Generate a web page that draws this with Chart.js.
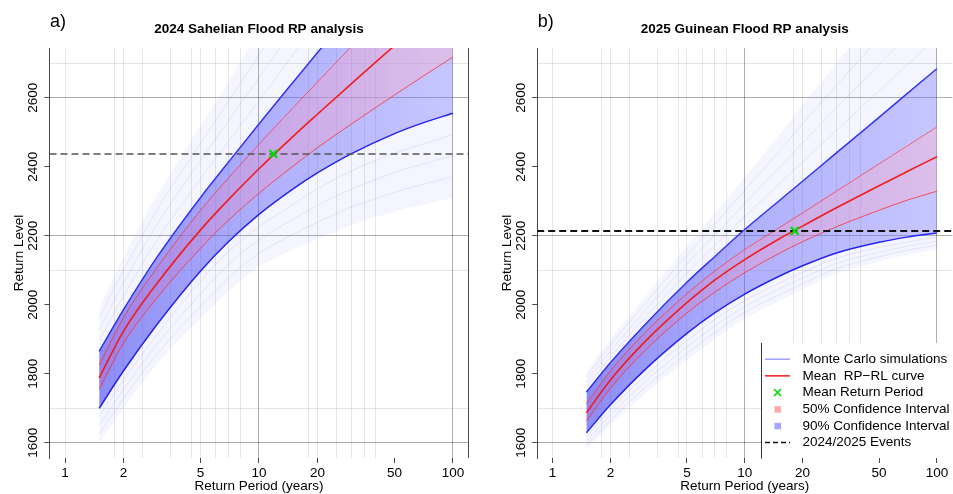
<!DOCTYPE html>
<html><head><meta charset="utf-8">
<script src="https://cdn.jsdelivr.net/npm/chart.js@4.4.1/dist/chart.umd.min.js"></script>
<style>
html,body{margin:0;padding:0;background:#fff;overflow:hidden;}
#wrap{position:relative;width:953px;height:494px;overflow:hidden;background:#fff;}
canvas{position:absolute;top:0;}
#c1{left:0;} #c2{left:480px;}
</style></head><body>
<div id="wrap"><canvas id="c1" width="480" height="494"></canvas><canvas id="c2" width="480" height="494"></canvas></div>
<script>
// ---------------- data ----------------
const RP = [1.5, 2, 3, 5, 7, 10, 15, 20, 30, 50, 70, 100];

// a) 2024 Sahelian flood
const SAH_MEAN    = [1788, 1923, 2064, 2217, 2306, 2394, 2488, 2552, 2641, 2751, 2821, 2892];
const SAH_CI50_HI = [1826, 1962, 2110, 2274, 2369, 2465, 2571, 2645, 2749, 2879, 2963, 3050];
const SAH_CI50_LO = [1755, 1888, 2022, 2164, 2246, 2323, 2402, 2455, 2524, 2608, 2662, 2718];
const SAH_CI90_HI = [1865, 1985, 2140, 2311, 2415, 2524, 2645, 2730, 2848, 2994, 3089, 3188];
const SAH_CI90_LO = [1700, 1808, 1945, 2098, 2184, 2262, 2336, 2382, 2438, 2496, 2527, 2555];
const SAH_SIM_MAX = [1990, 2140, 2320, 2520, 2650, 2790, 2950, 3060, 3200, 3380, 3480, 3600];
const SAH_SIM_MIN = [1600, 1700, 1830, 1960, 2040, 2110, 2160, 2190, 2230, 2270, 2290, 2310];
const SAH_SIMS = [
  [1895, 2025, 2190, 2365, 2475, 2590, 2725, 2820, 2945, 3100, 3200, 3305],
  [1928, 2062, 2235, 2418, 2535, 2658, 2800, 2900, 3030, 3195, 3295, 3405],
  [1960, 2100, 2278, 2468, 2592, 2724, 2875, 2980, 3115, 3288, 3388, 3500],
  [1675, 1782, 1916, 2069, 2156, 2226, 2291, 2336, 2388, 2439, 2466, 2493],
  [1650, 1755, 1888, 2032, 2118, 2188, 2248, 2288, 2335, 2383, 2408, 2432],
  [1625, 1728, 1859, 1996, 2079, 2149, 2204, 2239, 2283, 2326, 2349, 2371]
];
const SAH_EVENT_LEVEL = 2437;
const SAH_EVENT_RP = 11.85;

// b) 2025 Guinean flood
const GUI_MEAN    = [1687, 1782, 1891, 2006, 2072, 2131, 2190, 2228, 2281, 2345, 2386, 2429];
const GUI_CI50_HI = [1713, 1808, 1917, 2032, 2098, 2160, 2222, 2266, 2329, 2408, 2460, 2515];
const GUI_CI50_LO = [1663, 1758, 1865, 1976, 2037, 2093, 2148, 2183, 2226, 2274, 2303, 2329];
const GUI_CI90_HI = [1747, 1832, 1940, 2065, 2140, 2218, 2300, 2358, 2440, 2543, 2612, 2684];
const GUI_CI90_LO = [1629, 1710, 1810, 1917, 1977, 2031, 2082, 2113, 2150, 2181, 2196, 2208];
const GUI_SIM_MAX = [1805, 1900, 2020, 2170, 2265, 2370, 2490, 2580, 2700, 2850, 2950, 3060];
const GUI_SIM_MIN = [1581, 1650, 1740, 1840, 1900, 1960, 2010, 2045, 2090, 2125, 2145, 2160];
const GUI_SIMS = [
  [1762, 1849, 1960, 2091, 2171, 2256, 2348, 2414, 2505, 2620, 2695, 2778],
  [1776, 1866, 1980, 2118, 2203, 2294, 2395, 2469, 2570, 2697, 2780, 2872],
  [1791, 1883, 2000, 2144, 2234, 2332, 2443, 2525, 2635, 2773, 2865, 2966],
  [1617, 1695, 1792, 1896, 1958, 2012, 2062, 2094, 2135, 2166, 2182, 2196],
  [1605, 1680, 1775, 1878, 1939, 1995, 2045, 2078, 2120, 2152, 2170, 2184],
  [1593, 1665, 1758, 1859, 1920, 1978, 2028, 2061, 2105, 2139, 2158, 2172]
];
const GUI_EVENT_LEVEL = 2214;
const GUI_EVENT_RP = 18.2;

// axes / ticks
const X_MIN = 0.8318, X_MAX = 120.23;
const Y_MIN = 1556, Y_MAX = 2744;
const X_TICK_LABELS = [1, 2, 5, 10, 20, 50, 100];
const X_GRID = [1, 1.8, 2, 2.5, 3.5, 4.5, 5, 6, 7, 8, 10, 18, 20, 25, 30, 35, 40, 100];
const X_GRID_MAJOR = [10, 100];
const Y_TICK_LABELS = [1600, 1800, 2000, 2200, 2400, 2600];
const Y_GRID_MAJOR = [1600, 2200, 2600];
const Y_GRID_MINOR = [1700, 2100, 2700];
const LEGEND_LABELS = ['Monte Carlo simulations', 'Mean  RP\u2212RL curve', 'Mean Return Period',
  '50% Confidence Interval', '90% Confidence Interval', '2024/2025 Events'];

// ---------------- styles ----------------
const FONT = "'Liberation Sans', Arial, Helvetica, sans-serif";
const AXIS = '#4a4a4a';
const GRID_DARK = 'rgba(0,0,0,0.32)';
const GRID_LIGHT = 'rgba(0,0,0,0.10)';
const NONE = 'rgba(0,0,0,0)';
Chart.defaults.font.family = FONT;
Chart.defaults.color = '#000';

const X_TICK_VALUES = [...new Set([...X_GRID, ...X_TICK_LABELS])].sort((a, b) => a - b);
const Y_TICK_VALUES = [...new Set([...Y_TICK_LABELS, ...Y_GRID_MAJOR, ...Y_GRID_MINOR])].sort((a, b) => a - b);

function hGrad(chart, stops) {
  const {ctx, chartArea, scales} = chart;
  if (!chartArea || !scales.x) return stops[0][1];
  const x0 = scales.x.getPixelForValue(RP[0]);
  const x1 = scales.x.getPixelForValue(RP[RP.length - 1]);
  const g = ctx.createLinearGradient(x0, 0, x1, 0);
  stops.forEach(s => g.addColorStop(s[0], s[1]));
  return g;
}

const extras = {
  id: 'extras',
  afterDraw(chart, args, o) {
    const {ctx, chartArea: a} = chart;
    ctx.save();
    ctx.fillStyle = '#000';
    ctx.font = '18px ' + FONT;
    ctx.textAlign = 'left';
    ctx.textBaseline = 'alphabetic';
    ctx.fillText(o.tag, a.left + 0.5, 26.5);
    if (o.rightLine) {
      ctx.strokeStyle = AXIS; ctx.lineWidth = 1;
      const x = Math.floor(a.right) + 0.5;
      ctx.beginPath(); ctx.moveTo(x, a.top); ctx.lineTo(x, a.bottom); ctx.stroke();
    }
    if (o.legend) {
      const L = o.legend;
      ctx.fillStyle = '#fff';
      ctx.fillRect(L.x, L.top, chart.width - L.x, a.bottom - L.top);
      ctx.strokeStyle = '#333'; ctx.lineWidth = 1;
      ctx.beginPath(); ctx.moveTo(L.x, L.top); ctx.lineTo(L.x, a.bottom + 0.5); ctx.stroke();
      LEGEND_LABELS.forEach((txt, i) => {
        const y = L.row0 + i * L.rowH;
        const cx = L.symX;
        ctx.setLineDash([]);
        if (i === 0 || i === 1 || i === 5) {
          ctx.strokeStyle = i === 0 ? 'rgba(140,140,255,0.85)' : (i === 1 ? '#f01c1c' : '#111');
          ctx.lineWidth = 1.5;
          if (i === 5) ctx.setLineDash([5, 3]);
          ctx.beginPath(); ctx.moveTo(cx - 12.5, y); ctx.lineTo(cx + 12.5, y); ctx.stroke();
          ctx.setLineDash([]);
        } else if (i === 2) {
          ctx.strokeStyle = '#00dd00'; ctx.lineWidth = 1.6;
          ctx.beginPath(); ctx.moveTo(cx - 3.5, y - 3.5); ctx.lineTo(cx + 3.5, y + 3.5);
          ctx.moveTo(cx - 3.5, y + 3.5); ctx.lineTo(cx + 3.5, y - 3.5); ctx.stroke();
        } else {
          ctx.fillStyle = i === 3 ? 'rgba(255,170,170,1)' : 'rgba(165,165,255,1)';
          ctx.fillRect(cx - 3, y - 3, 6.5, 6.5);
        }
        ctx.fillStyle = '#000';
        ctx.font = '13.5px ' + FONT;
        ctx.textBaseline = 'middle';
        ctx.fillText(txt, L.textX, y);
      });
    }
    ctx.restore();
  }
};

function makePanel(canvasId, p) {
  const pts = arr => RP.map((x, i) => ({x: x, y: arr[i]}));
  const ds = [];
  ds.push({label: 'sim max', data: pts(p.simMax), borderWidth: 0, borderColor: NONE, fill: false, order: 30});
  ds.push({label: 'sim min', data: pts(p.simMin), borderWidth: 0, borderColor: NONE, fill: 0,
    backgroundColor: 'rgba(120,120,255,0.07)', order: 29});
  p.sims.forEach((s, k) => ds.push({label: 'Monte Carlo simulation ' + (k + 1), data: pts(s),
    borderColor: 'rgba(90,90,255,0.13)', borderWidth: 1, fill: false, order: 20}));
  const i90 = ds.length;
  ds.push({label: '90% CI upper', data: pts(p.ci90Hi), borderColor: '#2424ee', borderWidth: 1.5, fill: false, order: 10});
  ds.push({label: '90% CI lower', data: pts(p.ci90Lo), borderColor: '#2424ee', borderWidth: 1.5, fill: i90, order: 9,
    backgroundColor: c => hGrad(c.chart, [[0, 'rgba(75,75,240,0.62)'], [0.45, 'rgba(95,95,250,0.47)'], [1, 'rgba(115,115,255,0.36)']])});
  const i50 = ds.length;
  ds.push({label: '50% CI upper', data: pts(p.ci50Hi), borderColor: 'rgba(255,40,40,0.75)', borderWidth: 1, fill: false, order: 6});
  ds.push({label: '50% CI lower', data: pts(p.ci50Lo), borderColor: 'rgba(255,40,40,0.75)', borderWidth: 1, fill: i50, order: 5,
    backgroundColor: c => hGrad(c.chart, [[0, 'rgba(210,80,170,0.2)'], [0.5, 'rgba(255,150,185,0.3)'], [1, 'rgba(255,180,200,0.38)']])});
  ds.push({label: 'Mean RP-RL curve', data: pts(p.mean), borderColor: '#f01c1c', borderWidth: 1.6, fill: false, order: 3});
  ds.push({label: 'Event', data: [{x: X_MIN, y: p.event}, {x: X_MAX, y: p.event}], borderColor: p.evColor,
    borderWidth: p.evWidth, borderDash: [7, 4], fill: false, order: 2, cubicInterpolationMode: 'default', tension: 0});
  ds.push({label: 'Mean Return Period', data: [{x: p.evRP, y: p.event}], showLine: false, pointStyle: 'crossRot',
    pointRadius: 5.5, pointBorderWidth: 2.2, pointBorderColor: '#00dd00', pointBackgroundColor: '#00dd00', order: 1});

  return new Chart(document.getElementById(canvasId), {
    type: 'line',
    data: {datasets: ds},
    options: {
      responsive: false, animation: false, events: [],
      devicePixelRatio: 1,
      layout: {padding: {top: 0, left: 0, right: p.padRight, bottom: 0}},
      elements: {point: {radius: 0}, line: {cubicInterpolationMode: 'monotone'}},
      plugins: {
        legend: {display: false}, tooltip: {enabled: false},
        title: {display: true, text: p.title, fullSize: false, align: 'center', color: '#000',
          font: {size: 13.5, weight: 'bold'}, padding: {top: 21.2, bottom: 10.6}},
        extras: {tag: p.tag, rightLine: p.rightLine, legend: p.legend}
      },
      scales: {
        x: {
          type: 'logarithmic', min: X_MIN, max: X_MAX, z: 1,
          afterBuildTicks: s => { s.ticks = X_TICK_VALUES.map(v => ({value: v})); },
          afterFit: s => { s.height = 36; },
          border: {display: false},
          grid: {
            color: c => { const v = c.tick ? c.tick.value : null;
              return X_GRID_MAJOR.includes(v) ? GRID_DARK : (X_GRID.includes(v) ? GRID_LIGHT : NONE); },
            tickColor: c => (c.tick && X_TICK_LABELS.includes(c.tick.value)) ? AXIS : NONE,
            tickLength: 5, lineWidth: 1
          },
          ticks: {autoSkip: false, maxRotation: 0, minRotation: 0, padding: 2, color: '#000',
            font: {size: 13.5}, callback: v => X_TICK_LABELS.includes(v) ? String(v) : ''},
          title: {display: true, text: 'Return Period (years)', color: '#000', font: {size: 13.5},
            padding: {top: 0, bottom: 0}}
        },
        y: {
          type: 'linear', min: Y_MIN, max: Y_MAX, z: 1,
          afterBuildTicks: s => { s.ticks = Y_TICK_VALUES.map(v => ({value: v})); },
          afterFit: s => { s.width = p.yAxisW; },
          border: {display: true, color: AXIS, width: 1},
          grid: {
            color: c => { const v = c.tick ? c.tick.value : null;
              return Y_GRID_MAJOR.includes(v) ? GRID_DARK : (Y_GRID_MINOR.includes(v) ? GRID_LIGHT : NONE); },
            tickColor: c => (c.tick && Y_TICK_LABELS.includes(c.tick.value)) ? AXIS : NONE,
            tickLength: 5, lineWidth: 1
          },
          ticks: {autoSkip: false, minRotation: 90, maxRotation: 90, crossAlign: 'center', padding: -4,
            color: '#000', font: {size: 13.5}, callback: v => Y_TICK_LABELS.includes(v) ? String(v) : ''},
          title: {display: true, text: 'Return Level', color: '#000', font: {size: 13.5},
            padding: {top: p.yTitlePad, bottom: 0}}
        }
      }
    },
    plugins: [extras]
  });
}

makePanel('c1', {
  title: '2024 Sahelian Flood RP analysis', tag: 'a)',
  mean: SAH_MEAN, ci50Hi: SAH_CI50_HI, ci50Lo: SAH_CI50_LO, ci90Hi: SAH_CI90_HI, ci90Lo: SAH_CI90_LO,
  simMax: SAH_SIM_MAX, simMin: SAH_SIM_MIN, sims: SAH_SIMS,
  event: SAH_EVENT_LEVEL, evRP: SAH_EVENT_RP, evColor: '#555', evWidth: 1.5,
  padRight: 11.5, yAxisW: 49.5, yTitlePad: 11.2, rightLine: true, legend: null
});
makePanel('c2', {
  title: '2025 Guinean Flood RP analysis', tag: 'b)',
  mean: GUI_MEAN, ci50Hi: GUI_CI50_HI, ci50Lo: GUI_CI50_LO, ci90Hi: GUI_CI90_HI, ci90Lo: GUI_CI90_LO,
  simMax: GUI_SIM_MAX, simMin: GUI_SIM_MIN, sims: GUI_SIMS,
  event: GUI_EVENT_LEVEL, evRP: GUI_EVENT_RP, evColor: '#111', evWidth: 2,
  padRight: 3.8, yAxisW: 57.2, yTitlePad: 19.4, rightLine: false,
  legend: {x: 281.5, top: 343, symX: 297.5, textX: 322.5, row0: 359.2, rowH: 16.65}
});
</script></body></html>
